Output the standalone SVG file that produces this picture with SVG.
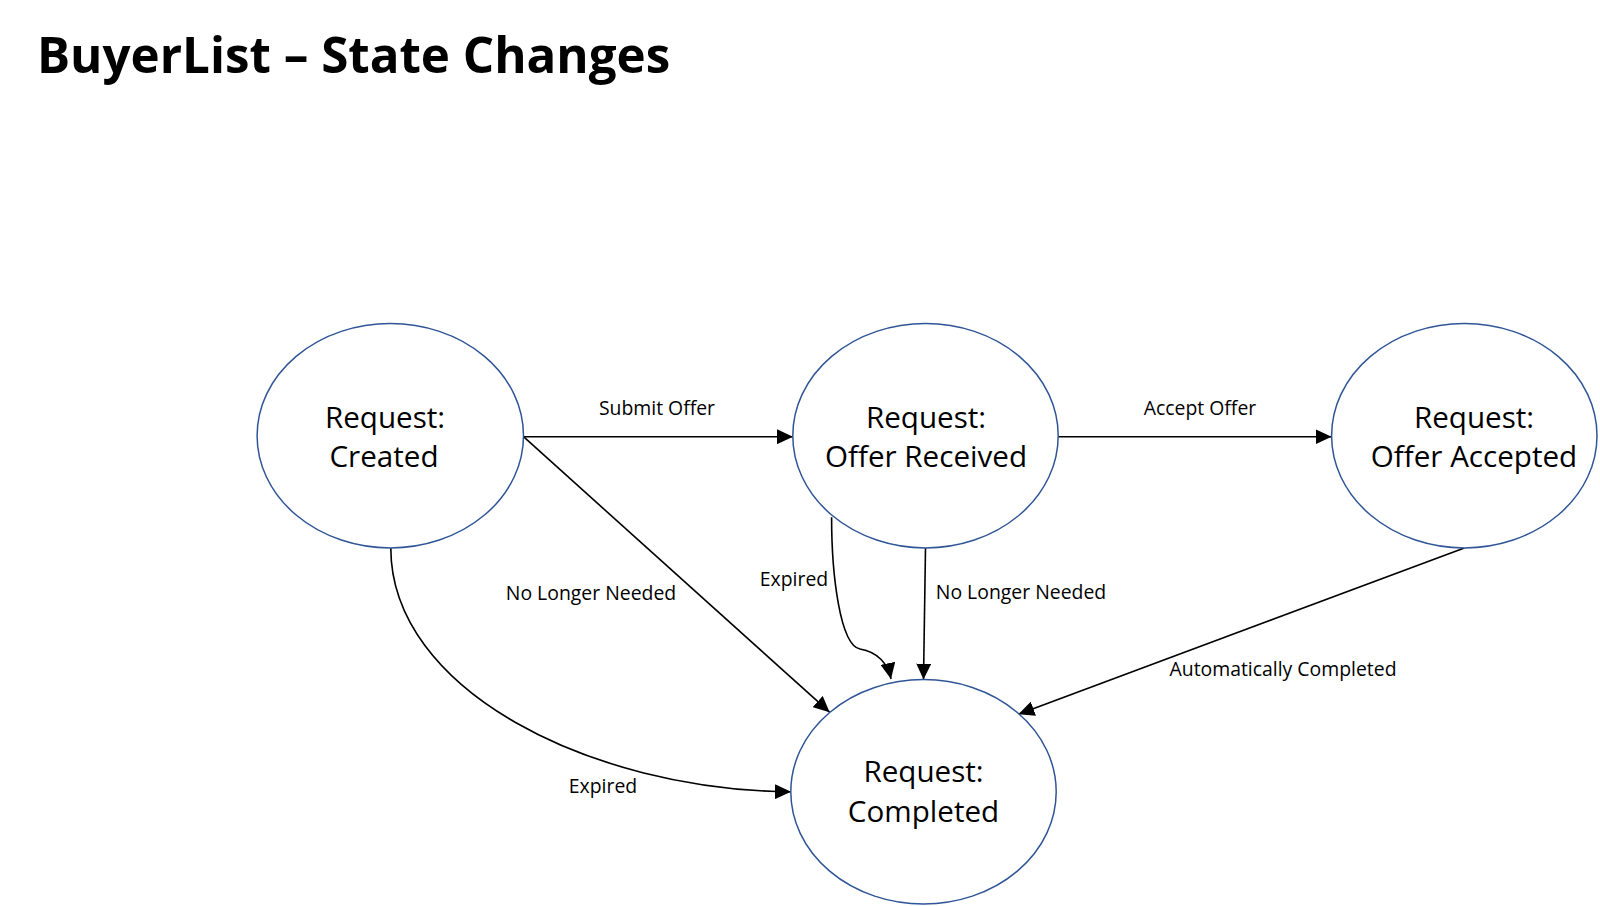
<svg xmlns="http://www.w3.org/2000/svg" width="1600" height="906" viewBox="0 0 1600 906">
<defs>
<style>
.node ellipse{fill:#fff;stroke:#2F5597;stroke-width:1.5}
.nt{font-family:"Open Sans","Liberation Sans",sans-serif;font-size:29.6px;fill:#000;text-anchor:middle}
.el{font-family:"Open Sans","Liberation Sans",sans-serif;font-size:19.4px;fill:#000;text-anchor:middle}
.title{font-family:"Open Sans","Liberation Sans",sans-serif;font-weight:bold;font-size:49.3px;fill:#000}
#edges path{fill:none;stroke:#000;stroke-width:1.6}
</style>
<marker id="arr" markerUnits="userSpaceOnUse" markerWidth="17" markerHeight="15" refX="16" refY="7.5" orient="auto">
<path d="M0,0 L16,7.5 L0,15 z" fill="#000"/>
</marker>
</defs>
<rect width="1600" height="906" fill="#fff"/>
<text class="title" x="37" y="73">BuyerList – State Changes</text>

<g id="edges">
<path d="M523.5,436.7 L793,436.7" marker-end="url(#arr)"/>
<path d="M1058,436.7 L1331.6,436.7" marker-end="url(#arr)"/>
<path d="M523.5,436.7 L829.6,712.2" marker-end="url(#arr)"/>
<path d="M390.8,548 C390.8,690 590,790 791,791.8" marker-end="url(#arr)"/>
<path d="M831.6,517.3 C831.6,575 840,645 860,649 C878,652 888,664 891,679" marker-end="url(#arr)"/>
<path d="M925.5,548 L923.5,679.6" marker-end="url(#arr)"/>
<path d="M1464.3,548 L1018.4,714.3" marker-end="url(#arr)"/>
<text class="el" x="657" y="415">Submit Offer</text>
<text class="el" x="1200" y="415">Accept Offer</text>
<text class="el" x="591" y="600">No Longer Needed</text>
<text class="el" x="794" y="586">Expired</text>
<text class="el" x="1021" y="599">No Longer Needed</text>
<text class="el" x="1283" y="676">Automatically Completed</text>
<text class="el" x="603" y="793">Expired</text>
</g>

<g id="node-created" class="node">
<ellipse cx="390.3" cy="435.7" rx="133.2" ry="112.2"/>
<text class="nt" x="385" y="427.5">Request:</text>
<text class="nt" x="384" y="467.3">Created</text>
</g>
<g id="node-offer-received" class="node">
<ellipse cx="925.5" cy="435.7" rx="132.7" ry="112.2"/>
<text class="nt" x="926" y="427.5">Request:</text>
<text class="nt" x="926" y="467.3">Offer Received</text>
</g>
<g id="node-offer-accepted" class="node">
<ellipse cx="1464.3" cy="435.7" rx="132.7" ry="112.2"/>
<text class="nt" x="1474" y="427.5">Request:</text>
<text class="nt" x="1474" y="467.3">Offer Accepted</text>
</g>
<g id="node-completed" class="node">
<ellipse cx="923.5" cy="791.8" rx="132.7" ry="112.2"/>
<text class="nt" x="923.5" y="781.6">Request:</text>
<text class="nt" x="923.5" y="821.5">Completed</text>
</g>
</svg>
